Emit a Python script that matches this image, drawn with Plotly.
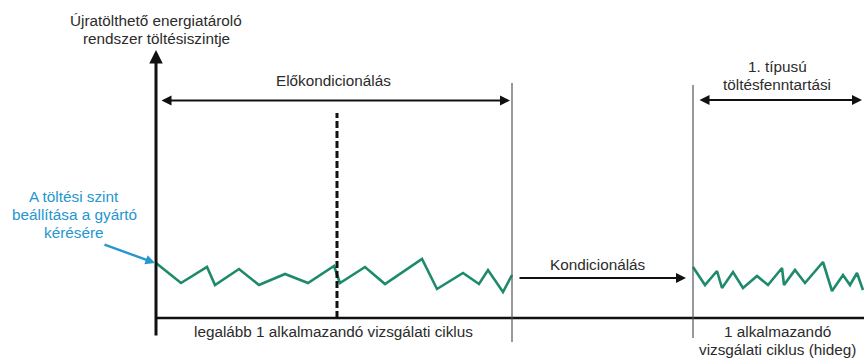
import plotly.graph_objects as go

# Charge level over time (time in x, level in y; both in plot units)
precond_time = [156, 181, 207, 215, 239, 259, 285, 308, 334, 340, 365, 385, 422, 437, 463, 479, 488, 503, 512]
precond_level = [95, 75, 91, 73, 89, 73, 84, 75, 92, 75, 91, 74, 99, 69, 85, 74, 88, 66, 83]

test_time = [693, 705, 717, 722, 733, 743, 757, 768, 782, 784, 795, 805, 823, 832, 843, 850, 857, 863]
test_level = [91, 73, 87, 70, 86, 70, 82, 73, 90, 73, 88, 75, 96, 67, 83, 73, 85, 68]

# Phase boundaries along the time axis
t_origin = 156
t_cycle_split = 337
t_precond_end = 512
t_test_start = 693
t_end = 864

phase_labels = [["Előkondicionálás"], ["Kondicionálás"], ["1. típusú", "töltésfenntartási"]]
cycle_labels = [["legalább 1 alkalmazandó vizsgálati ciklus"], ["1 alkalmazandó", "vizsgálati ciklus (hideg)"]]
axis_title = ["Újratölthető energiatároló", "rendszer töltésiszintje"]
note_text = ["A töltési szint", "beállítása a gyártó", "kérésére"]

GREEN = "#1e8a6c"
INK = "#111111"
TEXT = "#2b2b2b"
BLUE = "#2596cf"
FONT = "Liberation Sans, Arial, sans-serif"
FS = 15.3
LINE_GAP = 18.3

fig = go.Figure()
for t, lv in [(precond_time, precond_level), (test_time, test_level)]:
    fig.add_trace(go.Scatter(x=t, y=lv, mode="lines",
                             line=dict(color=GREEN, width=2.6),
                             hoverinfo="skip", showlegend=False))

shapes = [
    # time axis
    dict(type="line", x0=t_origin, x1=t_end, y0=40, y1=40, line=dict(color=INK, width=2.6)),
    # cycle split (dashed)
    dict(type="line", x0=t_cycle_split, x1=t_cycle_split, y0=40, y1=245,
         line=dict(color=INK, width=3, dash="7px,3px")),
    # phase boundaries
    dict(type="line", x0=t_precond_end, x1=t_precond_end, y0=16, y1=275, line=dict(color="#555555", width=1.2)),
    dict(type="line", x0=t_test_start, x1=t_test_start, y0=20, y1=273, line=dict(color="#555555", width=1.2)),
]

ann = []
# level axis with arrowhead
ann.append(dict(x=t_origin, y=308, ax=t_origin, ay=21, xref="x", yref="y", axref="x", ayref="y",
                text="", showarrow=True, arrowhead=2, arrowsize=0.9, arrowwidth=3, arrowcolor=INK))
# precondition span
ann.append(dict(x=t_precond_end - 2, y=257.5, ax=t_origin + 4, ay=257.5, xref="x", yref="y", axref="x", ayref="y",
                text="", showarrow=True, arrowhead=2, startarrowhead=2, arrowside="end+start",
                arrowsize=1, arrowwidth=2, arrowcolor=INK))
# conditioning arrow
ann.append(dict(x=t_test_start - 7, y=80, ax=t_precond_end + 6, ay=80, xref="x", yref="y", axref="x", ayref="y",
                text="", showarrow=True, arrowhead=2, arrowsize=1, arrowwidth=2, arrowcolor=INK))
# charge-sustaining span
ann.append(dict(x=t_end - 2, y=258, ax=t_test_start + 5, ay=258, xref="x", yref="y", axref="x", ayref="y",
                text="", showarrow=True, arrowhead=2, startarrowhead=2, arrowside="end+start",
                arrowsize=1, arrowwidth=2, arrowcolor=INK))
# note arrow
ann.append(dict(x=t_origin - 1, y=precond_level[0], ax=103, ay=114, xref="x", yref="y", axref="x", ayref="y",
                text="", showarrow=True, arrowhead=2, arrowsize=0.8, arrowwidth=2.4, arrowcolor=BLUE))


def label(x, y_top, lines, color=TEXT):
    """Place a block of centred text lines, first line centred at y_top."""
    for i, line in enumerate(lines):
        ann.append(dict(x=x, y=y_top - i * LINE_GAP, xref="x", yref="y", text=line, showarrow=False,
                        font=dict(family=FONT, size=FS, color=color),
                        xanchor="center", yanchor="middle"))


label(156, 338, axis_title)
label(333, 278, phase_labels[0])
label(598, 94, phase_labels[1])
label(777, 292, phase_labels[2])
label(333, 27, cycle_labels[0])
label(777, 27, cycle_labels[1])
label(74, 162, note_text, BLUE)

fig.update_layout(
    width=864, height=358,
    margin=dict(l=0, r=0, t=0, b=0),
    paper_bgcolor="white", plot_bgcolor="white",
    xaxis=dict(range=[0, 864], visible=False, fixedrange=True),
    yaxis=dict(range=[0, 358], visible=False, fixedrange=True),
    shapes=shapes, annotations=ann,
)

fig.write_html("out.html", config={"displayModeBar": False})
